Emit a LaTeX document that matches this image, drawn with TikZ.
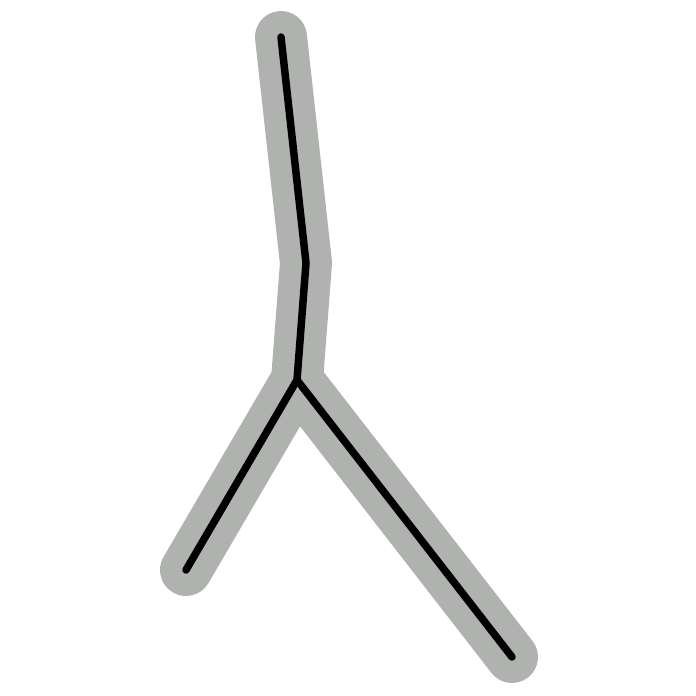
\documentclass[tikz,border=0pt]{standalone}
\definecolor{halo}{RGB}{176,178,176}
\begin{document}
\begin{tikzpicture}[x=1pt,y=-1pt,
  outer/.style={draw=halo,line width=52pt,line cap=round,line join=miter},
  inner/.style={draw=black,line width=7.5pt,line cap=round,line join=miter}]
\useasboundingbox (0,0) rectangle (696,696);
\coordinate (t) at (281,37);
\coordinate (b) at (306,263);
\coordinate (j) at (297,380);
\coordinate (l) at (186,570);
\coordinate (r) at (512,657);
\draw[outer] (t) -- (b) -- (j) -- (l);
\draw[outer] (j) -- (r);
\draw[inner] (t) -- (b) -- (j) -- (l);
\draw[inner] (j) -- (r);
\end{tikzpicture}
\end{document}
